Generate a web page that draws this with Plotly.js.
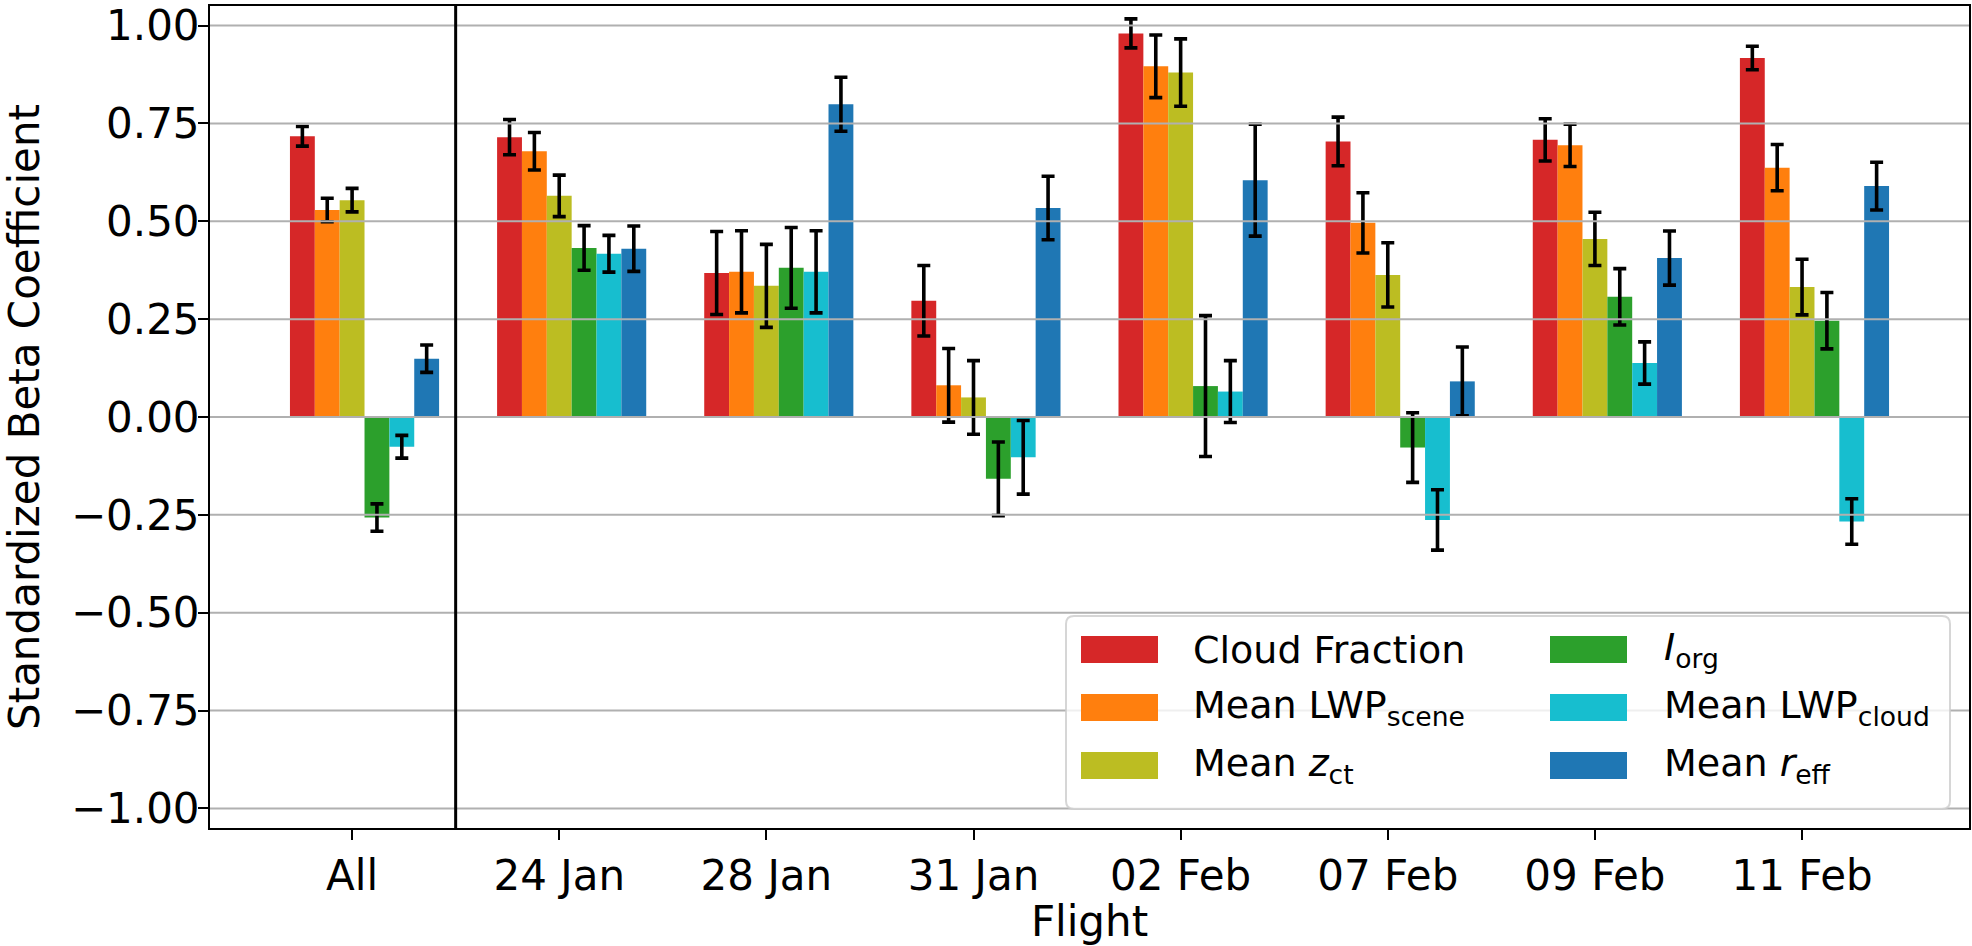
<!DOCTYPE html>
<html><head><meta charset="utf-8">
<script src="https://cdn.plot.ly/plotly-3.0.1.min.js"></script>
<style>html,body{margin:0;padding:0;background:#fff}</style>
</head><body><div id="chart" style="width:1972px;height:946px"></div>
<script>
// ---- data ----
const flights = ["All", "24 Jan", "28 Jan", "31 Jan", "02 Feb", "07 Feb", "09 Feb", "11 Feb"];

const cloudFraction    = [0.717, 0.715, 0.368, 0.297, 0.980, 0.704, 0.708, 0.917];
const cloudFractionErr = [0.025, 0.045, 0.106, 0.090, 0.037, 0.062, 0.054, 0.030];

const lwpScene    = [0.529, 0.679, 0.371, 0.081, 0.896, 0.496, 0.694, 0.637];
const lwpSceneErr = [0.030, 0.048, 0.105, 0.094, 0.080, 0.077, 0.054, 0.059];

const zct    = [0.554, 0.565, 0.335, 0.050, 0.880, 0.363, 0.455, 0.332];
const zctErr = [0.030, 0.053, 0.106, 0.094, 0.086, 0.082, 0.068, 0.071];

const iorg    = [-0.257, 0.432, 0.381, -0.158, 0.079, -0.078, 0.307, 0.246];
const iorgErr = [0.035, 0.057, 0.103, 0.094, 0.180, 0.089, 0.072, 0.072];

const lwpCloud    = [-0.076, 0.417, 0.371, -0.103, 0.065, -0.263, 0.138, -0.267];
const lwpCloudErr = [0.029, 0.047, 0.105, 0.094, 0.079, 0.077, 0.054, 0.058];

const reff    = [0.149, 0.430, 0.799, 0.534, 0.605, 0.091, 0.406, 0.590];
const reffErr = [0.035, 0.058, 0.069, 0.081, 0.143, 0.088, 0.069, 0.061];

const seriesNames  = ["Cloud Fraction", "Mean LWP<sub>scene</sub>", "Mean <i>z</i><sub>ct</sub>",
                      "<i>I</i><sub>org</sub>", "Mean LWP<sub>cloud</sub>", "Mean <i>r</i><sub>eff</sub>"];
const seriesColors = ["#d62728", "#ff7f0e", "#bcbd22", "#2ca02c", "#17becf", "#1f77b4"];
const seriesValues = [cloudFraction, lwpScene, zct, iorg, lwpCloud, reff];
const seriesErrors = [cloudFractionErr, lwpSceneErr, zctErr, iorgErr, lwpCloudErr, reffErr];

const yTickVals  = [-1, -0.75, -0.5, -0.25, 0, 0.25, 0.5, 0.75, 1];
const yTickText  = ["\u22121.00", "\u22120.75", "\u22120.50", "\u22120.25", "0.00", "0.25", "0.50", "0.75", "1.00"];
const separatorX = 0.5;

// ---- layout constants ----
const W = 1972, H = 946;
const M = {l: 210, r: 3, t: 6, b: 118};
const plotW = W - M.l - M.r, plotH = H - M.t - M.b;
const px = x => (x - M.l) / plotW;
const py = y => (H - M.b - y) / plotH;
const FONT = "DejaVu Sans";
const barWidth = 0.12;

const traces = seriesValues.map((vals, i) => ({
  type: "bar",
  x: flights,
  y: vals,
  name: seriesNames[i],
  width: barWidth,
  offset: (i - 2) * barWidth - barWidth / 2,
  marker: {color: seriesColors[i], line: {width: 0}},
  error_y: {type: "data", array: seriesErrors[i], visible: true, color: "#000000", thickness: 3.6, width: 6.5},
  showlegend: false,
  hoverinfo: "skip"
}));

const shapes = [];
yTickVals.forEach(v => shapes.push({
  type: "line", xref: "paper", x0: 0, x1: 1, yref: "y", y0: v, y1: v,
  line: {color: "#b0b0b0", width: 2}, layer: "above"
}));
shapes.push({
  type: "line", xref: "x", x0: separatorX, x1: separatorX, yref: "paper", y0: 0, y1: 1,
  line: {color: "#000000", width: 3}, layer: "above"
});

// legend (matplotlib style, 2 columns, column-major order)
const legBox = {x0: 1066, x1: 1950, y0: 616, y1: 809, r: 8};
function roundedRect(b) {
  const x0 = px(b.x0), x1 = px(b.x1), y0 = py(b.y1), y1 = py(b.y0);
  const rx = b.r / plotW, ry = b.r / plotH;
  return `M${x0 + rx},${y0} L${x1 - rx},${y0} Q${x1},${y0} ${x1},${y0 + ry} L${x1},${y1 - ry} Q${x1},${y1} ${x1 - rx},${y1} ` +
         `L${x0 + rx},${y1} Q${x0},${y1} ${x0},${y1 - ry} L${x0},${y0 + ry} Q${x0},${y0} ${x0 + rx},${y0} Z`;
}
shapes.push({
  type: "path", xref: "paper", yref: "paper", path: roundedRect(legBox),
  fillcolor: "rgba(255,255,255,0.8)", line: {color: "rgba(204,204,204,0.8)", width: 2}, layer: "above"
});
const legPatchX = [1081, 1550], legPatchW = 77, legPatchH = 27;
const legRowY = [649.5, 707.5, 765.5];
const legTextX = [1191, 1662];
const annotations = [];
seriesNames.forEach((name, k) => {
  const col = Math.floor(k / 3), row = k % 3;
  shapes.push({
    type: "rect", xref: "paper", yref: "paper",
    x0: px(legPatchX[col]), x1: px(legPatchX[col] + legPatchW),
    y0: py(legRowY[row] + legPatchH / 2), y1: py(legRowY[row] - legPatchH / 2),
    fillcolor: seriesColors[k], line: {width: 0}, layer: "above"
  });
  annotations.push({
    xref: "paper", yref: "paper", x: px(legTextX[col]), y: py(legRowY[row]),
    xanchor: "left", yanchor: "middle", showarrow: false, text: name,
    font: {family: FONT, size: 38, color: "#000000"}
  });
});

const layout = {
  width: W, height: H,
  margin: M,
  paper_bgcolor: "#ffffff", plot_bgcolor: "#ffffff",
  font: {family: FONT, size: 42, color: "#000000"},
  barmode: "overlay",
  showlegend: false,
  xaxis: {
    type: "category",
    range: [-0.686, 7.806],
    showline: true, mirror: true, linecolor: "#000000", linewidth: 2,
    ticks: "outside", ticklen: 10, tickwidth: 2, tickcolor: "#000000",
    showgrid: false, zeroline: false,
    tickfont: {family: FONT, size: 42, color: "#000000"},
    title: {text: "Flight", font: {family: FONT, size: 42, color: "#000000"}, standoff: 4},
    automargin: false
  },
  yaxis: {
    range: [-1.05, 1.05],
    tickvals: yTickVals, ticktext: yTickText,
    showline: true, mirror: true, linecolor: "#000000", linewidth: 2,
    ticks: "outside", ticklen: 10, tickwidth: 2, tickcolor: "#000000",
    ticklabeloverflow: "allow",
    ticklabelstandoff: -10,
    showgrid: false, zeroline: false,
    tickfont: {family: FONT, size: 42, color: "#000000"},
    title: {text: "Standardized Beta Coefficient", font: {family: FONT, size: 42, color: "#000000"}, standoff: 28},
    automargin: false
  },
  shapes: shapes,
  annotations: annotations
};

Plotly.newPlot("chart", traces, layout, {staticPlot: true, displayModeBar: false});
</script>
</body></html>
